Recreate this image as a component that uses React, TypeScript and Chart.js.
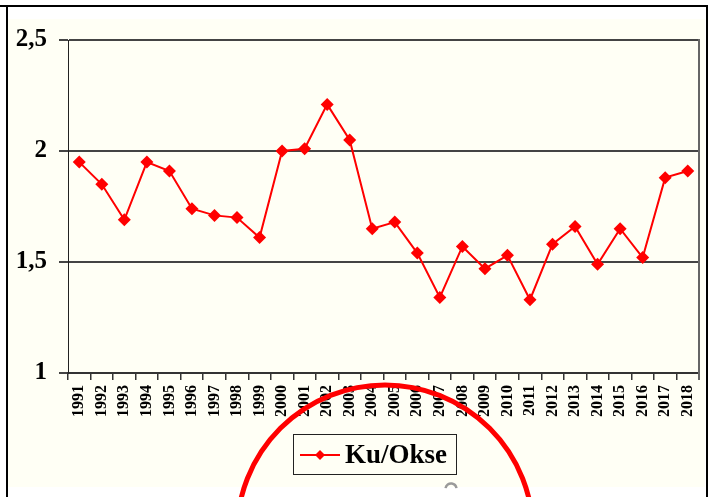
import React, { useEffect, useRef } from "react";
import { Chart, registerables } from "chart.js";

Chart.register(...registerables);

const years = [
  "1991", "1992", "1993", "1994", "1995", "1996", "1997", "1998", "1999", "2000",
  "2001", "2002", "2003", "2004", "2005", "2006", "2007", "2008", "2009", "2010",
  "2011", "2012", "2013", "2014", "2015", "2016", "2017", "2018",
];
const kuOkse = [
  1.95, 1.85, 1.69, 1.95, 1.91, 1.74, 1.71, 1.70, 1.61, 2.00,
  2.01, 2.21, 2.05, 1.65, 1.68, 1.54, 1.34, 1.57, 1.47, 1.53,
  1.33, 1.58, 1.66, 1.49, 1.65, 1.52, 1.88, 1.91,
];
const seriesName = "Ku/Okse";
const yMin = 1;
const yMax = 2.5;
const yStep = 0.5;

const SERIF = '"Liberation Serif", "Times New Roman", serif';
const RED = "#FF0000";
const CREAM = "#FFFFF5";

const framePlugin = {
  id: "frame",
  beforeDraw(chart: any) {
    const ctx = chart.ctx;
    const W = chart.width;
    const H = chart.height;
    ctx.save();
    ctx.fillStyle = "#FFFFFF";
    ctx.fillRect(0, 0, W, H);
    ctx.fillStyle = CREAM;
    ctx.fillRect(8, 19, 697, 468);
    ctx.fillStyle = "#000000";
    ctx.fillRect(0, 5, 708, 2);
    ctx.fillRect(6, 5, 2, H - 5);
    ctx.fillRect(706, 5, 2, H - 5);
    ctx.restore();
  },
  afterDraw(chart: any) {
    const ctx = chart.ctx;
    const a = chart.chartArea;
    ctx.save();
    // right plot border
    ctx.strokeStyle = "#666666";
    ctx.lineWidth = 2;
    ctx.beginPath();
    ctx.moveTo(a.right, a.top - 1);
    ctx.lineTo(a.right, a.bottom + 7);
    ctx.stroke();

    // legend
    const lx = 293, ly = 434, lw = 163, lh = 40;
    ctx.fillStyle = CREAM;
    ctx.fillRect(lx, ly, lw, lh);
    ctx.strokeStyle = "#222222";
    ctx.lineWidth = 1;
    ctx.strokeRect(lx + 0.5, ly + 0.5, lw, lh);
    const cy = ly + 21;
    ctx.strokeStyle = RED;
    ctx.lineWidth = 2;
    ctx.beginPath();
    ctx.moveTo(300, cy);
    ctx.lineTo(340, cy);
    ctx.stroke();
    ctx.fillStyle = RED;
    ctx.beginPath();
    const r = 5;
    ctx.moveTo(320, cy - r);
    ctx.lineTo(320 + r, cy);
    ctx.lineTo(320, cy + r);
    ctx.lineTo(320 - r, cy);
    ctx.closePath();
    ctx.fill();
    ctx.fillStyle = "#000000";
    ctx.font = `bold 27px ${SERIF}`;
    ctx.textAlign = "left";
    ctx.textBaseline = "middle";
    ctx.fillText(seriesName, 345, cy + 1);

    // small grey mark
    ctx.strokeStyle = "#9a9a9a";
    ctx.lineWidth = 2.5;
    ctx.beginPath();
    ctx.arc(451, 489, 5.5, Math.PI * 1.05, Math.PI * 1.95);
    ctx.stroke();

    // red annotation circle
    ctx.strokeStyle = RED;
    ctx.lineWidth = 5;
    ctx.beginPath();
    ctx.arc(385, 533, 148, Math.PI, Math.PI * 2);
    ctx.stroke();
    ctx.restore();
  },
};

export default function App() {
  const ref = useRef<HTMLCanvasElement | null>(null);

  useEffect(() => {
    if (!ref.current) return;
    const chart = new Chart(ref.current, {
      type: "line",
      data: {
        labels: years,
        datasets: [
          {
            label: seriesName,
            data: kuOkse,
            borderColor: RED,
            backgroundColor: RED,
            borderWidth: 2,
            pointStyle: "rectRot",
            pointRadius: 6.5,
            pointHoverRadius: 6.5,
            pointBorderWidth: 0,
            pointBackgroundColor: RED,
            tension: 0,
          },
        ],
      },
      options: {
        responsive: false,
        animation: false,
        devicePixelRatio: 1,
        layout: { padding: { left: 0, top: 40, right: 16, bottom: 0 } },
        plugins: {
          legend: { display: false },
          tooltip: { enabled: false },
          title: { display: false },
        },
        scales: {
          x: {
            type: "category",
            offset: true,
            grid: {
              display: true,
              offset: true,
              drawOnChartArea: false,
              drawTicks: true,
              tickLength: 7,
              color: "#333333",
              lineWidth: 1.5,
            },
            border: { display: true, color: "#333333", width: 2 },
            ticks: {
              autoSkip: false,
              maxRotation: 90,
              minRotation: 90,
              padding: 5,
              color: "#000000",
              font: { family: SERIF, size: 16, weight: "bold" },
            },
            afterFit(scale: any) {
              scale.height = 124;
            },
          },
          y: {
            min: yMin,
            max: yMax,
            grid: {
              display: true,
              drawTicks: true,
              tickLength: 9,
              color: "#444444",
              lineWidth: 2,
            },
            border: { display: true, color: "#222222", width: 1 },
            ticks: {
              stepSize: yStep,
              padding: 12,
              color: "#000000",
              font: { family: SERIF, size: 25, weight: "bold" },
              callback: (v: any) => String(v).replace(".", ","),
            },
            afterFit(scale: any) {
              scale.width = 68;
            },
          },
        },
      },
      plugins: [framePlugin],
    });
    return () => chart.destroy();
  }, []);

  return (
    <div style={{ position: "fixed", left: 0, top: 0, width: 715, height: 497 }}>
      <canvas ref={ref} width={715} height={497} style={{ width: 715, height: 497, display: "block" }} />
    </div>
  );
}
